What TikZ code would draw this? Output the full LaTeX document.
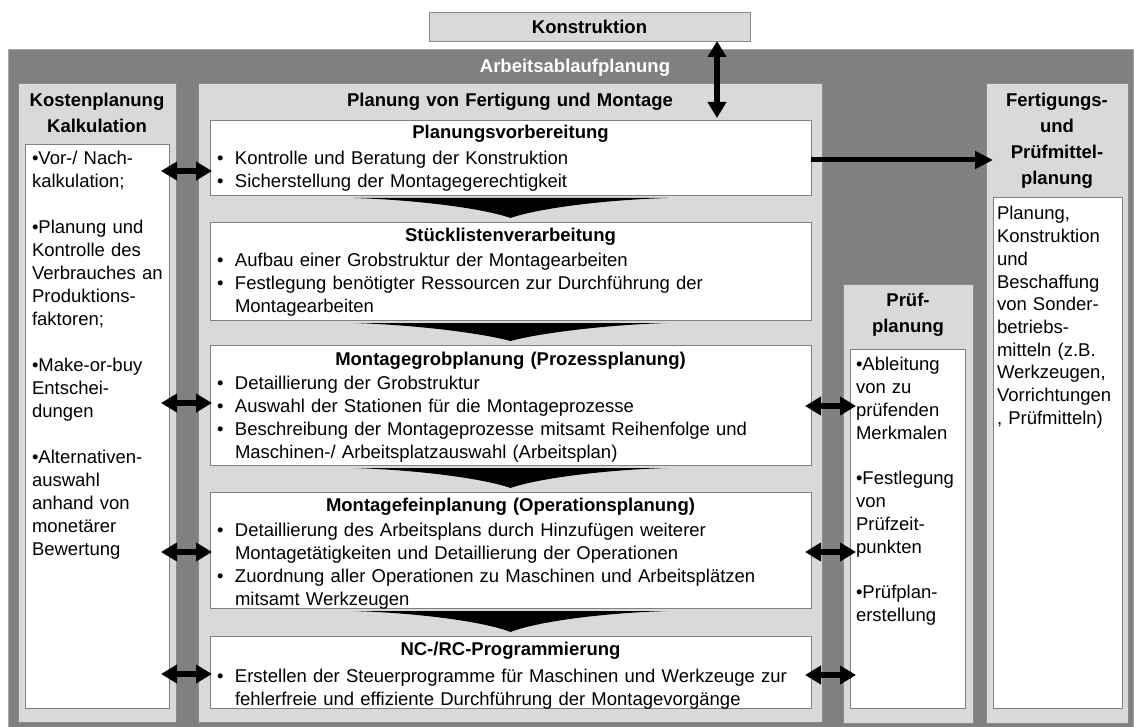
\documentclass[tikz,border=0pt]{standalone}
\usepackage{fontspec}
\setmainfont{Liberation Sans}[WordSpace=1.2]
\usetikzlibrary{arrows.meta,calc}

\definecolor{frame}{HTML}{808080}
\definecolor{panel}{HTML}{D9D9D9}
\definecolor{rim}{HTML}{8C8C8C}

% font size with a chosen line pitch
\newcommand\fsz[1]{\fontsize{18.5}{#1}\selectfont}
% hanging bullet and continuation indent for the step boxes
\newcommand\bul{\makebox[18pt][l]{•}}
\newcommand\ind{\hspace*{18pt}}
% black wedge pointing from one step box to the next
\newcommand\chev[2]{%
  \fill[wedge] ($(#1.south)+(-157,3)$)
    .. controls ($(#1.south)+(-90,5)$) and ($(#1.south)+(-25,14)$) .. ($(#2.north)+(0,-4)$)
    .. controls ($(#1.south)+(25,14)$) and ($(#1.south)+(90,5)$) .. ($(#1.south)+(157,3)$)
    -- cycle;}

\tikzset{
  plainbox/.style={rectangle, draw=rim, line width=0.8pt, inner sep=0pt, outer sep=0pt, anchor=north west},
  greybox/.style={plainbox, fill=panel},
  whitebox/.style={plainbox, fill=white, draw=frame},
  txt/.style={inner sep=0pt, outer sep=0pt, font=\fsz{23}, align=left, anchor=north west},
  headline/.style={inner sep=0pt, outer sep=0pt, font=\fsz{25.7}\bfseries, align=center, anchor=north},
  boxtitle/.style={inner sep=0pt, outer sep=0pt, font=\fsz{23}\bfseries, anchor=base},
  link/.style={line width=6pt, {Triangle[width=18pt,length=16pt]}-{Triangle[width=18pt,length=16pt]}},
  feed/.style={line width=5pt, -{Triangle[width=17pt,length=18pt]}},
  wedge/.style={fill=black},
}

\begin{document}
\begin{tikzpicture}[x=1pt,y=-1pt]
\useasboundingbox (0,0) rectangle (1134,727);

% frame of the whole planning area
\node[plainbox, fill=frame, draw=gray!70, minimum width=1125pt, minimum height=682pt] (outer) at (8,49) {};
\node[boxtitle, text=white] (ah) at (575,73) {Arbeitsablaufplanung};

% design department on top
\node[greybox, minimum width=321pt, minimum height=29pt, font=\fsz{23}\bfseries] (konstr) at (429,12) {Konstruktion};

% columns
\node[greybox, minimum width=158pt, minimum height=639pt] (kosten) at (18,83) {};
\node[whitebox, minimum width=144pt, minimum height=564pt] (kw) at (25,144) {};
\node[greybox, minimum width=624pt, minimum height=639pt] (plan) at (198,83) {};
\node[greybox, minimum width=130pt, minimum height=439pt] (pruef) at (843,284) {};
\node[whitebox, minimum width=115pt, minimum height=359pt] (pw) at (850,349) {};
\node[greybox, minimum width=142pt, minimum height=640pt] (fert) at (986,83) {};
\node[whitebox, minimum width=129pt, minimum height=511pt] (fw) at (993,197) {};

% step boxes
\node[whitebox, minimum width=601pt, minimum height=75pt] (b1) at (210,120) {};
\node[whitebox, minimum width=601pt, minimum height=98pt] (b2) at (210,222) {};
\node[whitebox, minimum width=601pt, minimum height=120pt] (b3) at (210,345) {};
\node[whitebox, minimum width=601pt, minimum height=116pt] (b4) at (210,492) {};
\node[whitebox, minimum width=601pt, minimum height=72pt] (b5) at (210,636) {};

\chev{b1}{b2}
\chev{b2}{b3}
\chev{b3}{b4}
\chev{b4}{b5}

% column headings
\node[headline] (kh) at (97,89) {\strut Kostenplanung\\Kalkulation};
\node[boxtitle] (ph) at (510,107) {Planung von Fertigung und Montage};
\node[headline] (prh) at (908,289) {\strut Prüf-\\planung};
\node[headline] (fh) at (1057,89) {\strut Fertigungs-\\und\\Prüfmittel-\\planung};

% column texts
\node[txt, font=\fsz{22.95}] (kt) at (32,148.9) {\strut •Vor-/ Nach-\\kalkulation;\\~\\•Planung und\\Kontrolle des\\Verbrauches an\\Produktions-\\faktoren;\\~\\•Make-or-buy\\Entschei-\\dungen\\~\\•Alternativen-\\auswahl\\anhand von\\monetärer\\Bewertung};
\node[txt, font=\fsz{22.8}] (prt) at (856,355) {\strut •Ableitung\\von zu\\prüfenden\\Merkmalen\\~\\•Festlegung\\von\\Prüfzeit-\\punkten\\~\\•Prüfplan-\\erstellung};
\node[txt, font=\fsz{22.7}] (ft) at (997,204.1) {\strut Planung,\\Konstruktion\\und\\Beschaffung\\von Sonder-\\betriebs-\\mitteln (z.B.\\Werkzeugen,\\Vorrichtungen\\, Prüfmitteln)};

% step texts
\node[boxtitle] (t1) at (510.5,139) {Planungsvorbereitung};
\node[txt] (s1) at (217,148.9) {\strut\bul Kontrolle und Beratung der Konstruktion\\\bul Sicherstellung der Montagegerechtigkeit};

\node[boxtitle] (t2) at (510.5,241) {Stücklistenverarbeitung};
\node[txt] (s2) at (217,249.9) {\strut\bul Aufbau einer Grobstruktur der Montagearbeiten\\\bul Festlegung benötigter Ressourcen zur Durchführung der\\\ind Montagearbeiten};

\node[boxtitle] (t3) at (510.5,365) {Montagegrobplanung (Prozessplanung)};
\node[txt] (s3) at (217,372.9) {\strut\bul Detaillierung der Grobstruktur\\\bul Auswahl der Stationen für die Montageprozesse\\\bul Beschreibung der Montageprozesse mitsamt Reihenfolge und\\\ind Maschinen-/ Arbeitsplatzauswahl (Arbeitsplan)};

\node[boxtitle] (t4) at (510.5,511) {Montagefeinplanung (Operationsplanung)};
\node[txt] (s4) at (217,519.9) {\strut\bul Detaillierung des Arbeitsplans durch Hinzufügen weiterer\\\ind Montagetätigkeiten und Detaillierung der Operationen\\\bul Zuordnung aller Operationen zu Maschinen und Arbeitsplätzen\\\ind mitsamt Werkzeugen};

\node[boxtitle] (t5) at (510.5,655) {NC-/RC-Programmierung};
\node[txt] (s5) at (217,665.9) {\strut\bul Erstellen der Steuerprogramme für Maschinen und Werkzeuge zur\\\ind fehlerfreie und effiziente Durchführung der Montagevorgänge};

% connectors
\coordinate (vx) at (717,0);
\draw[link, shorten >=2pt] (konstr.south -| vx) -- (b1.north -| vx);
\draw[feed] (b1.east |- 0,160) -- (fw.west |- 0,160);

\draw[link, shorten <=-8pt, shorten >=-2pt] (kw.east |- 0,171) -- (b1.west |- 0,171);
\draw[link, shorten <=-8pt, shorten >=-2pt] (kw.east |- 0,403) -- (b3.west |- 0,403);
\draw[link, shorten <=-8pt, shorten >=-2pt] (kw.east |- 0,552) -- (b4.west |- 0,552);
\draw[link, shorten <=-8pt, shorten >=-2pt] (kw.east |- 0,674) -- (b5.west |- 0,674);

\draw[link, shorten <=-6pt, shorten >=-6pt] (b3.east |- 0,406) -- (pw.west |- 0,406);
\draw[link, shorten <=-6pt, shorten >=-6pt] (b4.east |- 0,552) -- (pw.west |- 0,552);
\draw[link, shorten <=-6pt, shorten >=-6pt] (b5.east |- 0,675) -- (pw.west |- 0,675);
\end{tikzpicture}
\end{document}
